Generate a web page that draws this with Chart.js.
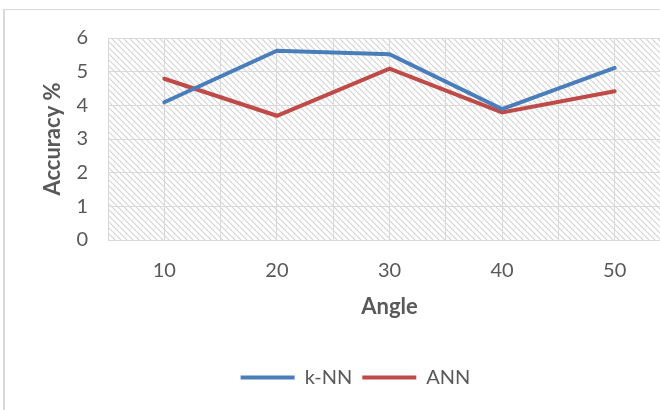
<!DOCTYPE html>
<html>
<head>
<meta charset="utf-8">
<script src="https://cdn.jsdelivr.net/npm/chart.js@4"></script>
<style>
  html, body { margin: 0; padding: 0; background: #fff; overflow: hidden; }
  #frame { position: absolute; left: 3px; top: 9px; width: 705px; height: 410px; border: 1px solid #d9d9d9; border-width: 1px 0 0 2px; }
  #wrap { position: absolute; left: 0; top: 0; width: 700px; height: 396px; }
</style>
</head>
<body>
<div id="frame"><div id="wrap"><canvas id="chart"></canvas></div></div>
<script>
const angles = [10, 20, 30, 40, 50];
const knnValues = [4.09, 5.62, 5.52, 3.89, 5.11];
const annValues = [4.79, 3.69, 5.09, 3.79, 4.42];
const yTicks = [0, 1, 2, 3, 4, 5, 6];

const textColor = '#595959';
const fontFamily = 'Lato, "Open Sans", sans-serif';

function makeHatch() {
  const s = 6;
  const c = document.createElement('canvas');
  c.width = s; c.height = s;
  const g = c.getContext('2d');
  g.fillStyle = '#fff';
  g.fillRect(0, 0, s, s);
  g.strokeStyle = '#d4d4d4';
  g.lineWidth = 1.1;
  g.beginPath();
  g.moveTo(-1, -1); g.lineTo(s + 1, s + 1);
  g.moveTo(-1, s - 1); g.lineTo(1, s + 1);
  g.moveTo(s - 1, -1); g.lineTo(s + 1, 1);
  g.stroke();
  return c;
}

const hatchPlugin = {
  id: 'hatch',
  beforeDraw(chart) {
    const { ctx, chartArea } = chart;
    ctx.save();
    ctx.fillStyle = ctx.createPattern(makeHatch(), 'repeat');
    ctx.fillRect(chartArea.left, chartArea.top, chartArea.right - chartArea.left, chartArea.bottom - chartArea.top);
    ctx.restore();
  }
};

const ctx = document.getElementById('chart').getContext('2d');
new Chart(ctx, {
  type: 'line',
  data: {
    datasets: [{
      label: 'k-NN',
      data: angles.map((a, i) => ({ x: a, y: knnValues[i] })),
      borderColor: '#4a7ebb',
      backgroundColor: '#4a7ebb',
      borderWidth: 4,
      borderCapStyle: 'round',
      pointRadius: 0,
      tension: 0
    }, {
      label: 'ANN',
      data: angles.map((a, i) => ({ x: a, y: annValues[i] })),
      borderColor: '#be4b48',
      backgroundColor: '#be4b48',
      borderWidth: 4,
      borderCapStyle: 'round',
      pointRadius: 0,
      tension: 0
    }]
  },
  options: {
    responsive: true,
    maintainAspectRatio: false,
    animation: false,
    layout: { padding: { top: 28, right: 34, left: 35, bottom: 8.5 } },
    plugins: {
      tooltip: { enabled: false },
      legend: {
        position: 'bottom',
        labels: {
          color: textColor,
          font: { family: fontFamily, size: 20 },
          usePointStyle: true,
          pointStyle: 'line',
          pointStyleWidth: 54,
          padding: 10
        }
      }
    },
    scales: {
      x: {
        type: 'linear',
        min: 5,
        max: 55,
        afterBuildTicks(scale) {
          const t = [];
          for (let v = 5; v <= 55; v += 5) t.push({ value: v });
          scale.ticks = t;
        },
        afterFit(scale) { scale.height = 117.5; },
        grid: { color: '#d9d9d9', drawTicks: false },
        border: { color: '#d9d9d9' },
        ticks: {
          autoSkip: false,
          maxRotation: 0,
          padding: 19,
          color: textColor,
          font: { family: fontFamily, size: 20 },
          callback: v => angles.includes(v) ? String(v) : ''
        },
        title: {
          display: true,
          text: 'Angle',
          color: textColor,
          font: { family: fontFamily, size: 22, weight: 'bold' },
          padding: { top: 0, bottom: 37 }
        }
      },
      y: {
        min: 0,
        max: 6,
        afterBuildTicks(scale) { scale.ticks = yTicks.map(v => ({ value: v })); },
        afterFit(scale) {
          scale.width = 68;
          scale.paddingTop = 0;
          scale.paddingBottom = 0;
        },
        grid: { color: '#d9d9d9', drawTicks: false },
        border: { color: '#d9d9d9' },
        ticks: {
          padding: 20,
          color: textColor,
          font: { family: fontFamily, size: 20 }
        },
        title: {
          display: true,
          text: 'Accuracy %',
          color: textColor,
          font: { family: fontFamily, size: 22, weight: 'bold' },
          padding: { top: 0, bottom: 0 }
        }
      }
    }
  },
  plugins: [hatchPlugin]
});
</script>
</body>
</html>
